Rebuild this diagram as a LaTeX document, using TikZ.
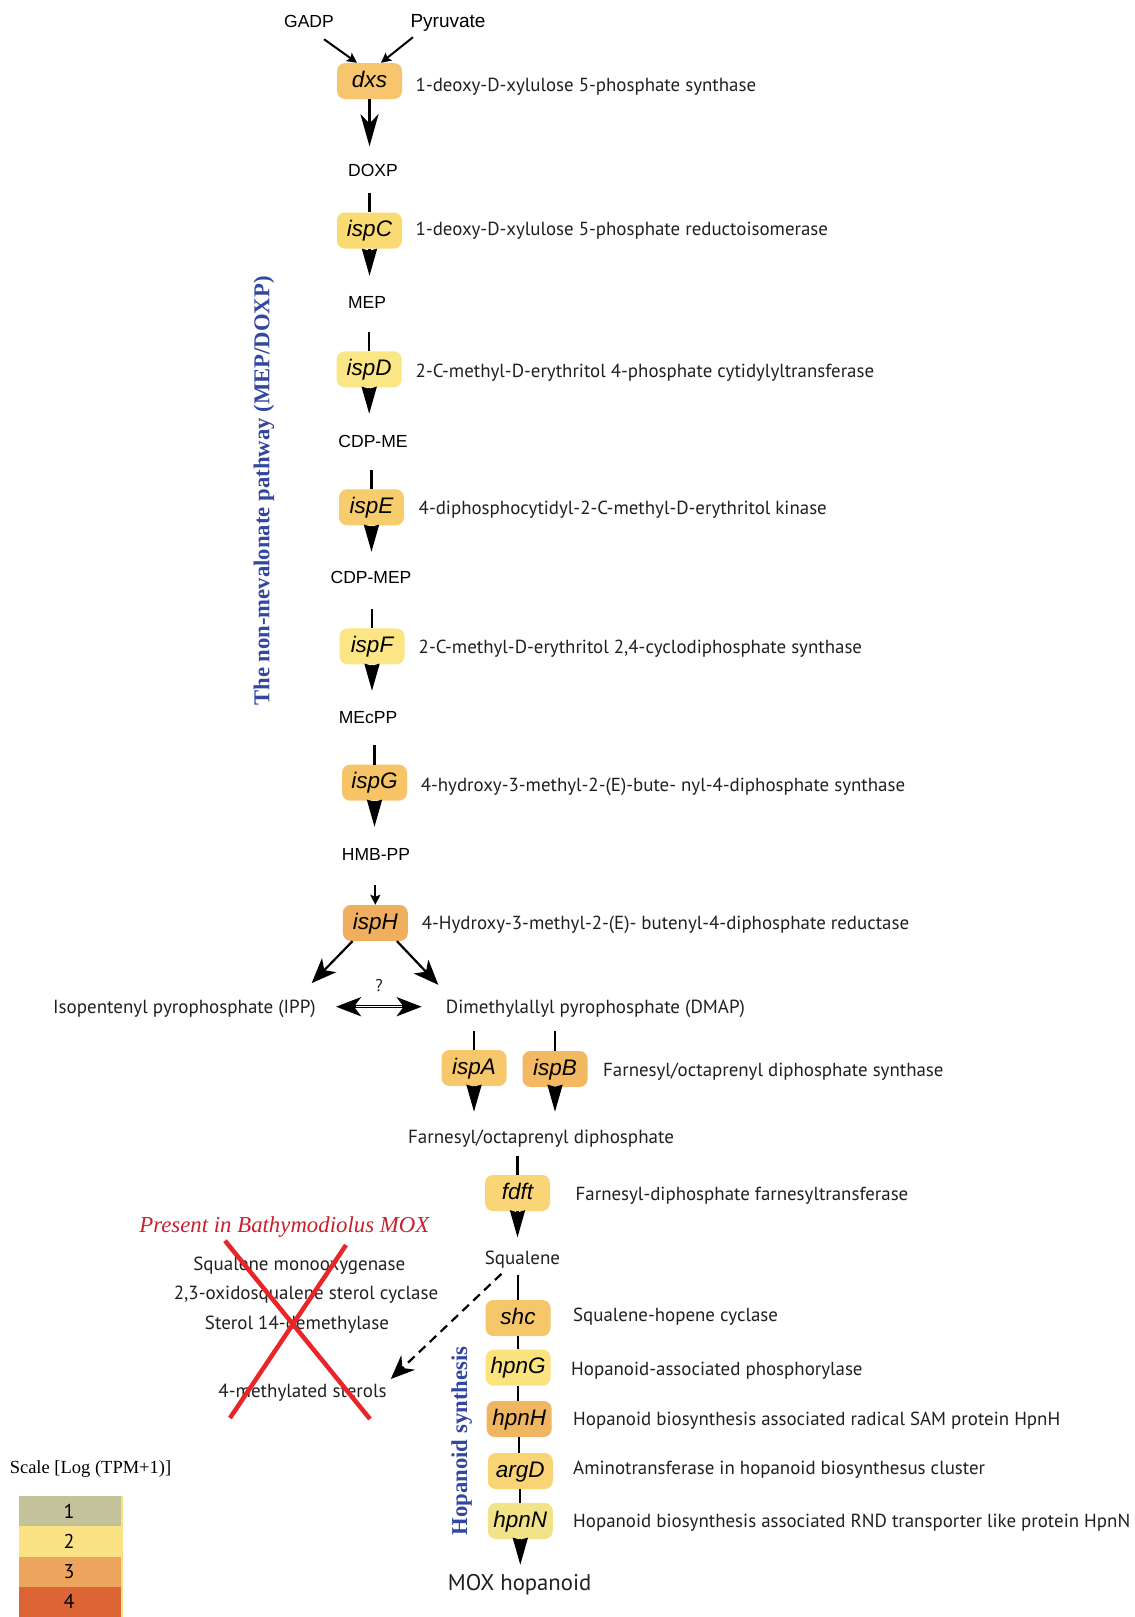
\documentclass[tikz,border=0pt]{standalone}
\usepackage{fontspec}
\setmainfont{PT Sans}
\newfontfamily\arialf{Liberation Sans}
\newfontfamily\seriff{Liberation Serif}
\usetikzlibrary{arrows.meta,calc}
\definecolor{cdxs}{HTML}{F7C56E}
\definecolor{cispC}{HTML}{F9DA73}
\definecolor{cispD}{HTML}{FBE686}
\definecolor{cispE}{HTML}{F7CC6C}
\definecolor{cispF}{HTML}{FBE585}
\definecolor{cispG}{HTML}{F6C467}
\definecolor{cispH}{HTML}{F0AF5E}
\definecolor{cispA}{HTML}{F7C76C}
\definecolor{cispB}{HTML}{F2B862}
\definecolor{cfdft}{HTML}{F9D577}
\definecolor{cshc}{HTML}{F5C66A}
\definecolor{chpnG}{HTML}{FBE380}
\definecolor{chpnH}{HTML}{F0B560}
\definecolor{cargD}{HTML}{F9D474}
\definecolor{chpnN}{HTML}{F2E389}
\definecolor{legA}{HTML}{C4C29A}
\definecolor{legB}{HTML}{FBE385}
\definecolor{legC}{HTML}{EDA55E}
\definecolor{legD}{HTML}{DD6535}
\definecolor{legY}{HTML}{F9E27F}
\definecolor{pathblue}{HTML}{3346A0}
\definecolor{mred}{HTML}{C8202F}
\definecolor{xred}{HTML}{E8262A}
\definecolor{txt}{HTML}{231F20}
\begin{document}
\begin{tikzpicture}[x=1pt,y=-1pt,
  gene/.style={rounded corners=8pt, minimum width=65pt, minimum height=36pt, inner sep=0pt,
     font=\arialf\itshape\fontsize{22.5}{26}\selectfont, text height=16pt, text depth=4pt},
  met/.style={font=\arialf\fontsize{17.5}{20}\selectfont, inner sep=0pt, minimum height=20pt,
     text height=12.5pt, text depth=0pt},
  myr/.style={font=\fontsize{19}{23}\selectfont, text=txt, inner sep=0pt, minimum height=20pt,
     text height=13.5pt, text depth=0pt},
  desc/.style={anchor=west, inner sep=0pt, text=txt, font=\fontsize{18.9}{23}\selectfont,
     text height=13.5pt, text depth=0pt},
  plain/.style={line width=2.2pt},
  conv/.style={line width=2.2pt, -{Stealth[length=27pt,width=15pt,inset=2pt]}},
  bigconv/.style={line width=2.6pt, -{Stealth[length=32pt,width=18pt,inset=9pt]}},
  small/.style={line width=2pt, -{Stealth[length=10pt,width=10pt,inset=2pt]}},
  branch/.style={line width=2.2pt, -{Stealth[length=25pt,width=20pt,inset=7pt]}},
  dbl/.style={line width=3.4pt,
     {Stealth[length=25pt,width=19pt,inset=7pt]}-{Stealth[length=25pt,width=19pt,inset=7pt]}},
  dblinner/.style={line width=1.3pt, white},
  dashedarrow/.style={line width=2.2pt, dash pattern=on 9pt off 6pt, -{Stealth[length=24pt,width=20pt,inset=8pt]}},
  vlabel/.style={rotate=90, inner sep=0pt, text=pathblue, font=\seriff\bfseries\fontsize{22.7}{26}\selectfont},
  legnum/.style={inner sep=0pt, font=\fontsize{20}{24}\selectfont}
]
\useasboundingbox[fill=white] (0,0) rectangle (1135,1617);

% ---------- genes ----------
\node[gene,fill=cdxs]  (dxs)  at (369.5,81)   {dxs};
\node[gene,fill=cispC] (ispC) at (369.5,230.5) {ispC};
\node[gene,fill=cispD] (ispD) at (369.2,369.3) {ispD};
\node[gene,fill=cispE] (ispE) at (371.5,507.3) {ispE};
\node[gene,fill=cispF] (ispF) at (372,646.3)   {ispF};
\node[gene,fill=cispG] (ispG) at (374.5,782.7) {ispG};
\node[gene,fill=cispH] (ispH) at (375.3,923)   {ispH};
\node[gene,fill=cispA] (ispA) at (474,1068)    {ispA};
\node[gene,fill=cispB] (ispB) at (555,1069)    {ispB};
\node[gene,fill=cfdft] (fdft) at (517.5,1193)  {fdft};
\node[gene,fill=cshc]  (shc)  at (518,1318)    {shc};
\node[gene,fill=chpnG] (hpnG) at (518.2,1367.6) {hpnG};
\node[gene,fill=chpnH] (hpnH) at (519.2,1419)  {hpnH};
\node[gene,fill=cargD] (argD) at (520.3,1471)  {argD};
\node[gene,fill=chpnN] (hpnN) at (520.3,1521)  {hpnN};

% ---------- metabolites ----------
\node[met] (GADP) at (309,21) {GADP};
\node[met,font=\arialf\fontsize{19}{22}\selectfont,text height=13.6pt] (Pyr) at (448,21) {Pyruvate};
\node[met] (DOXP)   at (373,170)   {DOXP};
\node[met] (MEP)    at (367,302)   {MEP};
\node[met] (CDPME)  at (373,441)   {CDP-ME};
\node[met] (CDPMEP) at (371,577.5) {CDP-MEP};
\node[met] (MEcPP)  at (368,717)   {MEcPP};
\node[met] (HMBPP)  at (376,854)   {HMB-PP};
\node[myr,anchor=east] (IPP)  at (316,1006.7) {Isopentenyl pyrophosphate (IPP)};
\node[myr,anchor=west] (DMAP) at (445.7,1006.7) {Dimethylallyl pyrophosphate (DMAP)};
\node[myr,font=\fontsize{17}{19}\selectfont] (qm) at (379,985) {?};
\node[myr] (FPP) at (541,1137)    {Farnesyl/octaprenyl diphosphate};
\node[myr] (Sq)  at (522.5,1257.6) {Squalene};
\node[myr,font=\fontsize{22.7}{26}\selectfont,text height=15.5pt] (MOX) at (519.6,1582.5) {MOX hopanoid};

% ---------- descriptions ----------
\node[desc] (ddxs)  at (415.5,84.5) {1-deoxy-D-xylulose 5-phosphate synthase};
\node[desc] (dispC) at (415.5,229)  {1-deoxy-D-xylulose 5-phosphate reductoisomerase};
\node[desc] (dispD) at (415.5,371)  {2-C-methyl-D-erythritol 4-phosphate cytidylyltransferase};
\node[desc] (dispE) at (418.5,508)  {4-diphosphocytidyl-2-C-methyl-D-erythritol kinase};
\node[desc] (dispF) at (418.5,647)  {2-C-methyl-D-erythritol 2,4-cyclodiphosphate synthase};
\node[desc] (dispG) at (420.6,784.5) {4-hydroxy-3-methyl-2-(E)-bute- nyl-4-diphosphate synthase};
\node[desc] (dispH) at (421.6,922.6) {4-Hydroxy-3-methyl-2-(E)- butenyl-4-diphosphate reductase};
\node[desc] (dispAB) at (603,1070)  {Farnesyl/octaprenyl diphosphate synthase};
\node[desc] (dfdft) at (575.5,1193.3) {Farnesyl-diphosphate farnesyltransferase};
\node[desc] (dshc)  at (573,1315)   {Squalene-hopene cyclase};
\node[desc] (dhpnG) at (571,1368.3) {Hopanoid-associated phosphorylase};
\node[desc] (dhpnH) at (573,1418.3) {Hopanoid biosynthesis associated radical SAM protein HpnH};
\node[desc] (dargD) at (573,1468)   {Aminotransferase in hopanoid biosynthesus cluster};
\node[desc] (dhpnN) at (573,1520.6) {Hopanoid biosynthesis associated RND transporter like protein HpnN};

% ---------- sterol branch ----------
\node[inner sep=0pt, text=mred, font=\seriff\itshape\fontsize{22.8}{26}\selectfont] (present) at (284.3,1226.7) {Present in Bathymodiolus MOX};
\node[myr] (smo) at (299.3,1263.3) {Squalene monooxygenase};
\node[myr] (osc) at (306,1292.3)   {2,3-oxidosqualene sterol cyclase};
\node[myr] (sdm) at (297,1323)     {Sterol 14-demethylase};
\node[myr] (sterols) at (302.5,1391) {4-methylated sterols};

% ---------- side labels ----------
\node[vlabel] (mevlab) at (264,491) {The non-mevalonate pathway (MEP/DOXP)};
\node[vlabel] (hoplab) at (461.7,1441) {Hopanoid synthesis};

% ---------- connectors: MEP pathway ----------
\draw[small] ($(GADP.south)+(15,8)$) -- ($(dxs.north)+(-12.5,0)$);
\draw[small] ($(Pyr.south)+(-35,6)$) -- ($(dxs.north)+(11.5,0)$);
\draw[bigconv, shorten >=13.5pt] (dxs.south) -- (dxs.south |- DOXP.north);
\draw[plain, shorten <=13pt] (DOXP.south -| ispC.north) -- (ispC.north);
\draw[conv, shorten >=16pt] (ispC.south) -- (ispC.south |- MEP.north);
\draw[plain, shorten <=20pt] (MEP.south -| ispD.north) -- (ispD.north);
\draw[conv, shorten >=17pt] (ispD.south) -- (ispD.south |- CDPME.north);
\draw[plain, shorten <=19pt] (CDPME.south -| ispE.north) -- (ispE.north);
\draw[conv, shorten >=15.5pt] (ispE.south) -- (ispE.south |- CDPMEP.north);
\draw[plain, shorten <=21.5pt] (CDPMEP.south -| ispF.north) -- (ispF.north);
\draw[conv, shorten >=16pt] (ispF.south) -- (ispF.south |- MEcPP.north);
\draw[plain, shorten <=18pt] (MEcPP.south -| ispG.north) -- (ispG.north);
\draw[conv, shorten >=17pt] (ispG.south) -- (ispG.south |- HMBPP.north);
\draw[small, shorten <=20.6pt] (HMBPP.south -| ispH.north) -- (ispH.north);
\draw[branch] ($(ispH.south)+(-22.8,0)$) -- ($(IPP.north east)+(-4.3,-13.4)$);
\draw[branch] ($(ispH.south)+(21.7,0)$) -- ($(DMAP.north west)+(-7.4,-11.7)$);
\draw[dbl, shorten <=20pt, shorten >=24pt] (IPP.east) -- (DMAP.west);
\draw[dblinner, shorten <=40pt, shorten >=44pt] (IPP.east) -- (DMAP.west);

% ---------- connectors: isoprenoid / hopanoid ----------
\draw[plain, shorten <=14pt] (DMAP.south -| ispA.north) -- (ispA.north);
\draw[plain, shorten <=14pt] (DMAP.south -| ispB.north) -- (ispB.north);
\draw[conv, shorten >=15pt] (ispA.south) -- (ispA.south |- FPP.north);
\draw[conv, shorten >=15pt] (ispB.south) -- (ispB.south |- FPP.north);
\draw[plain, shorten <=8.6pt] (FPP.south -| fdft.north) -- (fdft.north);
\draw[conv, shorten >=10pt] (fdft.south) -- (fdft.south |- Sq.north);
\draw[plain, shorten <=7.4pt] (Sq.south -| shc.north) -- (shc.north);
\draw[plain] (shc.south) -- (shc.south |- hpnG.north);
\draw[plain] (hpnG.south) -- (hpnG.south |- hpnH.north);
\draw[plain] (hpnH.south) -- (hpnH.south |- argD.north);
\draw[plain] (argD.south) -- (argD.south |- hpnN.north);
\draw[conv, shorten >=7.5pt] (hpnN.south) -- (hpnN.south |- MOX.north);
\draw[dashedarrow] ($(Sq.south)+(-21,6)$) -- ($(sterols.east)+(4,-12)$);

% ---------- red cross ----------
\draw[line width=4.5pt, xred] (225,1240.7) -- (370,1419);
\draw[line width=4.5pt, xred] (346,1245) -- (230,1418);

% ---------- legend ----------
\node[inner sep=0pt, font=\seriff\fontsize{18.5}{22}\selectfont] (scaletitle) at (90.5,1469) {Scale [Log (TPM+1)]};
\fill[legA] (19,1496) rectangle (121,1526);
\fill[legB] (19,1526) rectangle (121,1556.7);
\fill[legC] (19,1556.7) rectangle (121,1586.7);
\fill[legD] (19,1586.7) rectangle (121,1617);
\fill[legY] (121,1496) rectangle (123,1617);
\node[legnum] (l1) at (69,1511)   {1};
\node[legnum] (l2) at (69,1541.3) {2};
\node[legnum] (l3) at (69,1571.7) {3};
\node[legnum] (l4) at (69,1601.8) {4};
\end{tikzpicture}
\end{document}
